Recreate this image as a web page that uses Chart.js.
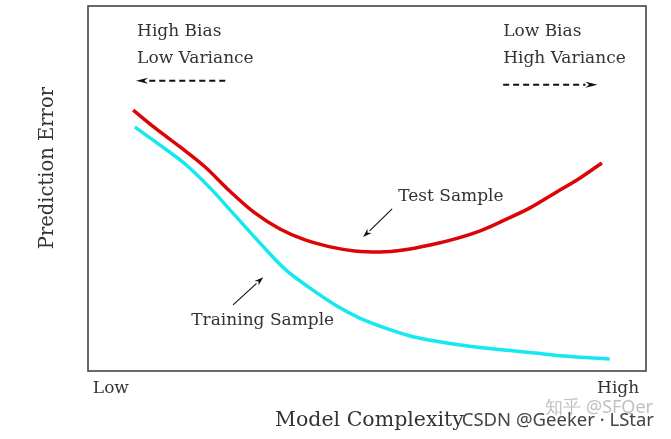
<!DOCTYPE html>
<html>
<head>
<meta charset="utf-8">
<script src="https://cdn.jsdelivr.net/npm/chart.js@4"></script>
<style>
  html, body { margin: 0; padding: 0; background: #fff; }
  #wrap { width: 671px; height: 439px; position: relative; }
</style>
</head>
<body>
<div id="wrap"><canvas id="c" width="671" height="439"></canvas></div>
<script>
// ---- data (model complexity on 0..100, prediction error on 0..100) ----
const testX  = [8.1, 12.0, 16.5, 21.0, 25.4, 29.9, 34.4, 38.9, 43.4, 47.8, 52.3, 56.8, 61.3, 65.8, 70.3, 74.7, 79.2, 83.7, 88.2, 92.1];
const testY  = [71.5, 66.6, 61.4, 55.9, 49.3, 43.3, 38.9, 35.9, 34.0, 32.9, 32.6, 33.2, 34.5, 36.2, 38.4, 41.4, 44.7, 48.8, 52.9, 57.0];
const trainX = [8.4, 12.9, 17.4, 21.9, 26.3, 30.8, 35.3, 39.8, 44.3, 48.7, 53.2, 57.7, 62.2, 66.7, 71.1, 75.6, 80.1, 84.6, 89.1, 93.5];
const trainY = [66.8, 61.9, 56.7, 50.1, 42.7, 35.1, 27.9, 22.7, 18.1, 14.5, 11.8, 9.6, 8.2, 7.1, 6.3, 5.6, 4.9, 4.2, 3.7, 3.3];
const xTickLabels = ['Low', 'High'];
const xTitle = 'Model Complexity';
const yTitle = 'Prediction Error';
const seriesNames = ['Test Sample', 'Training Sample'];

const pts = (xs, ys) => xs.map((x, i) => ({ x: x, y: ys[i] }));

const SERIF = '"DejaVu Serif", "Liberation Serif", serif';
const TEXT = '#333';

function arrow(ctx, x1, y1, x2, y2, dashed, headLen, headW, lw) {
  const ang = Math.atan2(y2 - y1, x2 - x1);
  const bx = x2 - headLen * Math.cos(ang), by = y2 - headLen * Math.sin(ang);
  ctx.save();
  ctx.strokeStyle = '#111';
  ctx.fillStyle = '#111';
  ctx.lineWidth = lw;
  if (dashed) ctx.setLineDash([6, 4]);
  ctx.beginPath(); ctx.moveTo(x1, y1); ctx.lineTo(bx, by); ctx.stroke();
  ctx.setLineDash([]);
  const nx = -Math.sin(ang), ny = Math.cos(ang);
  ctx.beginPath();
  ctx.moveTo(x2, y2);
  ctx.lineTo(bx + nx * headW, by + ny * headW);
  ctx.lineTo(bx + headLen * 0.3 * Math.cos(ang), by + headLen * 0.3 * Math.sin(ang));
  ctx.lineTo(bx - nx * headW, by - ny * headW);
  ctx.closePath(); ctx.fill();
  ctx.restore();
}

const decor = {
  id: 'decor',
  afterDraw(chart) {
    const { ctx, chartArea: a, scales } = chart;
    const X = v => scales.x.getPixelForValue(v);
    const Y = v => scales.y.getPixelForValue(v);
    ctx.save();
    // frame
    ctx.strokeStyle = '#444';
    ctx.lineWidth = 1.6;
    ctx.strokeRect(a.left, a.top, a.right - a.left, a.bottom - a.top);

    ctx.fillStyle = TEXT;
    ctx.textBaseline = 'middle';
    // corner notes
    ctx.font = '17px ' + SERIF;
    ctx.textAlign = 'left';
    ctx.fillText('High Bias', X(8.8), Y(92.9));
    ctx.fillText('Low Variance', X(8.8), Y(85.6));
    ctx.fillText('Low Bias', X(74.4), Y(92.9));
    ctx.fillText('High Variance', X(74.4), Y(85.6));
    arrow(ctx, X(24.6), Y(79.5), X(8.6), Y(79.5), true, 12, 3, 2);
    arrow(ctx, X(74.4), Y(78.4), X(91.3), Y(78.4), true, 12, 3, 2);

    // series labels with arrows
    ctx.fillText(seriesNames[0], X(55.6), Y(47.7));
    ctx.fillText(seriesNames[1], X(18.5), Y(13.7));
    arrow(ctx, X(54.5), Y(44.4), X(49.3), Y(36.7), false, 9, 3, 1.1);
    arrow(ctx, X(26.0), Y(18.1), X(31.4), Y(25.7), false, 9, 3, 1.1);

    // x tick labels
    ctx.font = '17px ' + SERIF;
    ctx.textAlign = 'center';
    ctx.fillText(xTickLabels[0], X(4.1), a.bottom + 18);
    ctx.fillText(xTickLabels[1], X(95.0), a.bottom + 18);

    // axis titles
    ctx.font = '20.5px ' + SERIF;
    ctx.textAlign = 'left';
    ctx.fillText(xTitle, 275, a.bottom + 50);
    ctx.save();
    ctx.translate(48, Y(55.6));
    ctx.rotate(-Math.PI / 2);
    ctx.textAlign = 'center';
    ctx.font = '19.5px ' + SERIF;
    ctx.fillText(yTitle, 0, 0);
    ctx.restore();

    // watermarks
    ctx.textAlign = 'right';
    ctx.font = '18px "Noto Sans", sans-serif';
    ctx.fillStyle = 'rgba(150,150,150,0.6)';
    ctx.fillText('知乎 @SFQer', 653, 408);
    ctx.fillStyle = '#444';
    ctx.font = '18.5px "Noto Sans", "DejaVu Sans", sans-serif';
    ctx.fillText('CSDN @Geeker · LStar', 654, 421);
    ctx.restore();
  }
};

new Chart(document.getElementById('c'), {
  type: 'line',
  data: {
    datasets: [
      { label: seriesNames[0], data: pts(testX, testY), borderColor: 'rgb(220,4,4)', borderWidth: 3.5,
        pointRadius: 0, cubicInterpolationMode: 'monotone', fill: false },
      { label: seriesNames[1], data: pts(trainX, trainY), borderColor: 'rgb(22,232,240)', borderWidth: 3.5,
        pointRadius: 0, cubicInterpolationMode: 'monotone', fill: false }
    ]
  },
  options: {
    responsive: false,
    animation: false,
    layout: { padding: { left: 88, right: 25, top: 6, bottom: 68 } },
    plugins: { legend: { display: false }, tooltip: { enabled: false } },
    scales: {
      x: { type: 'linear', min: 0, max: 100, display: false },
      y: { type: 'linear', min: 0, max: 100, display: false }
    }
  },
  plugins: [decor]
});
</script>
</body>
</html>
